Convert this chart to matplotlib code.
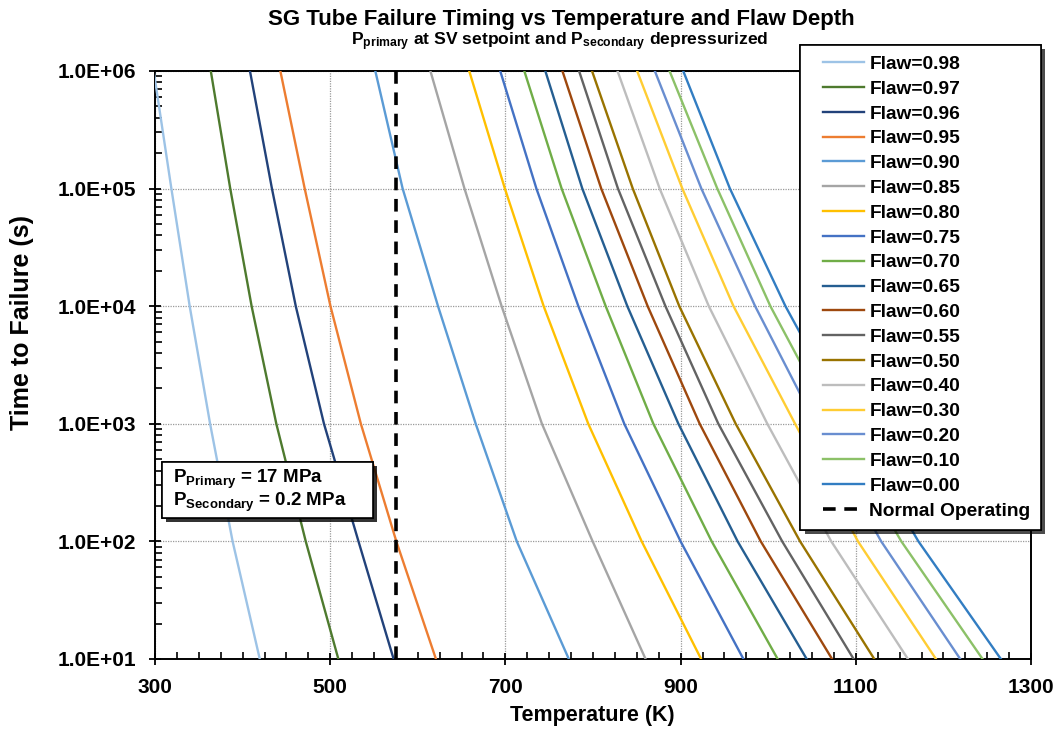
import matplotlib
matplotlib.use('Agg')
import matplotlib.pyplot as plt
from matplotlib import font_manager, patheffects
from matplotlib.ticker import FixedLocator, FuncFormatter, MultipleLocator, LogLocator, NullFormatter
from matplotlib.patches import Rectangle
from matplotlib.lines import Line2D
from matplotlib.legend_handler import HandlerLine2D

# ---------------- data ----------------
time_levels = [1e6, 1e5, 1e4, 1e3, 1e2, 1e1]   # time to failure (s)

flaw_labels = ['Flaw=0.98', 'Flaw=0.97', 'Flaw=0.96', 'Flaw=0.95', 'Flaw=0.90',
               'Flaw=0.85', 'Flaw=0.80', 'Flaw=0.75', 'Flaw=0.70', 'Flaw=0.65',
               'Flaw=0.60', 'Flaw=0.55', 'Flaw=0.50', 'Flaw=0.40', 'Flaw=0.30',
               'Flaw=0.20', 'Flaw=0.10', 'Flaw=0.00']

# temperature (K) at which each curve reaches the time levels above
temp_f098 = [298.5, 318.7, 339.6, 362.9, 388.6, 419.6]
temp_f097 = [363.7, 385.9, 410.3, 438.5, 472.1, 509.3]
temp_f096 = [408.4, 433.5, 460.7, 492.9, 532.3, 572.4]
temp_f095 = [443.1, 470.9, 500.3, 535.0, 575.5, 620.7]
temp_f090 = [551.5, 582.7, 623.1, 666.1, 713.0, 772.4]
temp_f085 = [614.4, 653.3, 695.7, 741.7, 799.6, 860.0]
temp_f080 = [658.7, 699.4, 743.7, 794.6, 855.6, 923.4]
temp_f075 = [694.1, 735.4, 783.3, 835.7, 900.0, 971.7]
temp_f070 = [721.6, 764.2, 814.5, 868.9, 935.5, 1010.8]
temp_f065 = [745.6, 787.8, 839.2, 897.5, 965.1, 1043.9]
temp_f060 = [765.1, 809.4, 862.4, 921.8, 991.5, 1072.9]
temp_f055 = [784.1, 828.5, 882.7, 943.1, 1016.0, 1097.5]
temp_f050 = [798.9, 845.4, 898.5, 962.9, 1036.4, 1121.1]
temp_f040 = [828.0, 876.1, 932.2, 999.0, 1072.0, 1159.5]
temp_f030 = [850.4, 902.0, 960.4, 1030.7, 1102.5, 1191.5]
temp_f020 = [870.6, 923.7, 985.1, 1054.0, 1129.0, 1219.2]
temp_f010 = [887.4, 941.9, 1002.5, 1074.0, 1152.0, 1244.7]
temp_f000 = [903.0, 956.3, 1019.7, 1093.0, 1171.5, 1265.6]

normal_operating_T = 575.0

x_ticks = [300, 500, 700, 900, 1100, 1300]
y_ticks = [1e1, 1e2, 1e3, 1e4, 1e5, 1e6]

# ---------------- styling ----------------
curve_temps = [temp_f098, temp_f097, temp_f096, temp_f095, temp_f090, temp_f085,
               temp_f080, temp_f075, temp_f070, temp_f065, temp_f060, temp_f055,
               temp_f050, temp_f040, temp_f030, temp_f020, temp_f010, temp_f000]
colors = ['#9DC3E6', '#4E7A2E', '#22427A', '#ED7D31', '#5B9BD5', '#A5A5A5',
          '#FFC000', '#4472C4', '#70AD47', '#255E91', '#9E480E', '#636363',
          '#997300', '#BDBDBD', '#FFCD33', '#698ED0', '#8CC168', '#327DC2']

names = {f.name for f in font_manager.fontManager.ttflist}
BASE = 'Liberation Sans' if 'Liberation Sans' in names else 'DejaVu Sans'

plt.rcParams.update({
    'font.family': [BASE, 'DejaVu Sans'],
    'font.weight': 'bold',
    'mathtext.fontset': 'custom',
    'mathtext.rm': f'{BASE}:bold',
    'mathtext.bf': f'{BASE}:bold',
    'mathtext.it': f'{BASE}:bold',
    'mathtext.sf': f'{BASE}:bold',
})

W, H = 1058, 729
fig = plt.figure(figsize=(W / 100, H / 100), dpi=100)
ax = fig.add_axes([155 / W, 1 - 659 / H, (1031 - 155) / W, (659 - 71) / H])

for temps, col, lab in zip(curve_temps, colors, flaw_labels):
    ax.plot(temps, time_levels, color=col, lw=1.7, label=lab, zorder=3)

ax.axvline(normal_operating_T, color='black', lw=2.6, dashes=(3.5, 2.4),
           label='Normal Operating', zorder=4)

ax.set_yscale('log')
ax.set_xlim(300, 1300)
ax.set_ylim(1e1, 1e6)

ax.xaxis.set_major_locator(FixedLocator(x_ticks))
ax.xaxis.set_minor_locator(MultipleLocator(25))
ax.yaxis.set_major_locator(FixedLocator(y_ticks))
ax.yaxis.set_minor_locator(LogLocator(base=10, subs=range(2, 10)))
ax.yaxis.set_minor_formatter(NullFormatter())
ax.yaxis.set_major_formatter(FuncFormatter(lambda v, p: f'{v:.1E}'))

ax.tick_params(which='major', direction='inout', length=9, width=1.3,
               labelsize=15, pad=9)
ax.tick_params(which='minor', direction='in', length=5, width=1.2)
for lab in ax.get_xticklabels() + ax.get_yticklabels():
    lab.set_fontweight('bold')

for sp in ax.spines.values():
    sp.set_linewidth(1.4)
    sp.set_color('black')

ax.grid(True, which='major', color='#9a9a9a', linestyle=(0, (1, 1)), lw=0.9, zorder=1)

fig.text(592 / W, 1 - 716 / H, 'Temperature (K)', fontsize=15.5, fontweight='bold',
         ha='center', va='center')
fig.text(22 / W, 1 - 322 / H, 'Time to Failure (s)', rotation=90, fontsize=18,
         fontweight='bold', ha='center', va='center')

# titles
fig.text(561 / W, 1 - 19 / H, 'SG Tube Failure Timing vs Temperature and Flaw Depth',
         fontsize=16, fontweight='bold', ha='center', va='center')
fig.text(560 / W, 1 - 42 / H,
         r'P$_{\mathbf{primary}}$ at SV setpoint and P$_{\mathbf{secondary}}$ depressurized',
         fontsize=12.6, fontweight='bold', ha='center', va='center')


# legend: handle lines drawn with extra left padding, as in the reference
class PadHandler(HandlerLine2D):
    def get_xdata(self, legend, xdescent, ydescent, width, height, fontsize):
        x0 = -xdescent + 0.234 * width
        x1 = -xdescent + width
        return [x0, x1], [x0, x1]


leg = ax.legend(loc='upper right', bbox_to_anchor=(1041 / W, 1 - 45 / H),
                bbox_transform=fig.transFigure, borderaxespad=0,
                fontsize=13.75, frameon=True, fancybox=False, shadow=False,
                handlelength=2.8, handletextpad=0.26, labelspacing=0.39,
                borderpad=0.55, handler_map={Line2D: PadHandler()})
for t in leg.get_texts():
    t.set_fontweight('bold')
leg.get_frame().set_edgecolor('black')
leg.get_frame().set_linewidth(1.2)
leg.get_frame().set_alpha(1)
leg.get_frame().set_path_effects([patheffects.withSimplePatchShadow(
    offset=(3, -3), shadow_rgbFace='black', alpha=0.7), patheffects.Normal()])
leg.set_zorder(10)

# pressure annotation box
box = Rectangle(((162 - 155) / 876, (659 - 518) / 588), (373 - 162) / 876, (518 - 462) / 588,
                transform=ax.transAxes, facecolor='white', edgecolor='black', lw=1.2,
                zorder=8)
box.set_path_effects([patheffects.withSimplePatchShadow(
    offset=(3, -3), shadow_rgbFace='black', alpha=0.8), patheffects.Normal()])
ax.add_patch(box)
ax.text((173 - 155) / 876, (659 - 491) / 588,
        'P$_{\\mathbf{Primary}}$ = 17 MPa\nP$_{\\mathbf{Secondary}}$ = 0.2 MPa',
        transform=ax.transAxes, fontsize=13.5, fontweight='bold', va='center',
        ha='left', linespacing=0.95, zorder=9)

fig.savefig('out.png', dpi=100)
